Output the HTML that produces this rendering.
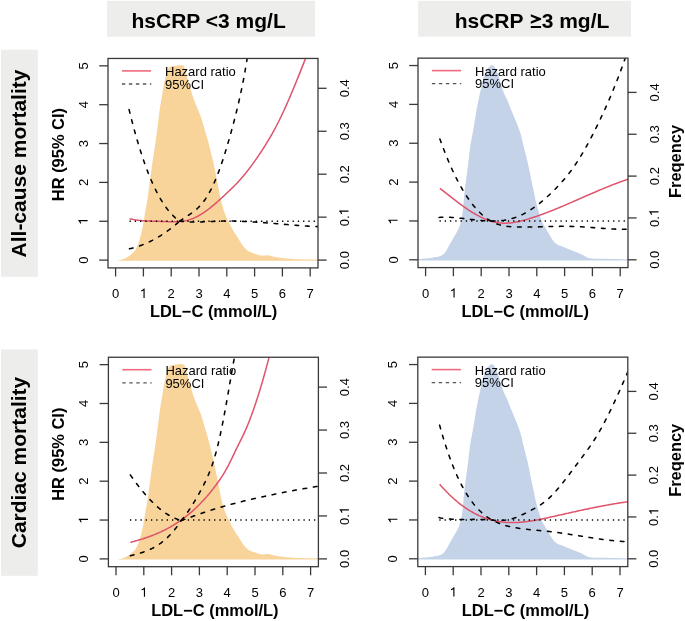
<!DOCTYPE html><html><head><meta charset="utf-8"><style>html,body{margin:0;padding:0;background:#fff;}svg{display:block;will-change:transform;}</style></head><body>
<svg width="685" height="621" viewBox="0 0 685 621" font-family='"Liberation Sans", sans-serif'>
<rect width="685" height="621" fill="#fff"/>
<rect x="107" y="0.8" width="208" height="35.9" fill="#ededeb"/>
<rect x="418.2" y="0.8" width="212.8" height="35.8" fill="#ededeb"/>
<text x="131.5" y="28" font-size="21" font-weight="bold" fill="#000">hsCRP &lt;3 mg/L</text>
<text x="454.7" y="27.8" font-size="21" font-weight="bold" fill="#000">hsCRP</text>
<path d="M530.8,14.2 L541.1,18.2 L541.1,19.8 L530.8,23.8 L530.8,21.6 L536.6,19 L530.8,16.4 Z M530.8,26 L541.1,26 L541.1,28.1 L530.8,28.1 Z" fill="#000"/>
<text x="541.7" y="27.8" font-size="21" font-weight="bold" fill="#000">3 mg/L</text>
<rect x="1" y="49.7" width="36.8" height="227.1" fill="#ededeb"/>
<rect x="1" y="349.4" width="36.8" height="226.4" fill="#ededeb"/>
<text transform="translate(26,163.5) rotate(-90)" text-anchor="middle" font-size="21" font-weight="bold">All-cause mortality</text>
<text transform="translate(26,462.5) rotate(-90)" text-anchor="middle" font-size="21" font-weight="bold">Cardiac mortality</text>
<defs>
<clipPath id="c1"><rect x="108" y="58.45" width="210" height="209.45"/></clipPath>
<clipPath id="c2"><rect x="418" y="58.150000000000006" width="210" height="209.45"/></clipPath>
<clipPath id="c3"><rect x="108.4" y="357.25" width="210" height="209.45"/></clipPath>
<clipPath id="c4"><rect x="417.8" y="357.15" width="210" height="209.45"/></clipPath>
</defs>
<path d="M116.50,260.70 C117.17,260.57 119.03,260.32 120.50,259.90 C121.97,259.48 123.70,258.98 125.30,258.20 C126.90,257.42 128.48,256.50 130.10,255.20 C131.72,253.90 133.68,252.22 135.00,250.40 C136.32,248.58 137.17,246.32 138.00,244.30 C138.83,242.28 139.20,241.32 140.00,238.30 C140.80,235.28 142.00,230.22 142.80,226.20 C143.60,222.18 144.10,218.22 144.80,214.20 C145.50,210.18 146.40,205.77 147.00,202.10 C147.60,198.43 147.55,198.42 148.40,192.20 C149.25,185.98 150.80,173.93 152.10,164.80 C153.40,155.67 154.93,146.53 156.20,137.40 C157.47,128.27 158.75,116.80 159.70,110.00 C160.65,103.20 161.27,100.43 161.90,96.60 C162.53,92.77 162.90,90.22 163.50,87.00 C164.10,83.78 164.83,80.05 165.50,77.30 C166.17,74.55 166.80,72.22 167.50,70.50 C168.20,68.78 168.62,67.75 169.70,67.00 C170.78,66.25 172.62,66.25 174.00,66.00 C175.38,65.75 176.78,65.65 178.00,65.50 C179.22,65.35 180.30,64.93 181.30,65.10 C182.30,65.27 183.32,65.53 184.00,66.50 C184.68,67.47 184.68,68.57 185.40,70.90 C186.12,73.23 187.32,77.07 188.30,80.50 C189.28,83.93 190.43,88.55 191.30,91.50 C192.17,94.45 192.57,95.57 193.50,98.20 C194.43,100.83 195.77,104.47 196.90,107.30 C198.03,110.13 199.27,112.38 200.30,115.20 C201.33,118.02 202.07,120.82 203.10,124.20 C204.13,127.58 205.63,132.53 206.50,135.50 C207.37,138.47 207.67,139.58 208.30,142.00 C208.93,144.42 209.43,146.52 210.30,150.00 C211.17,153.48 212.53,158.60 213.50,162.90 C214.47,167.20 215.23,171.50 216.10,175.80 C216.97,180.10 217.83,184.40 218.70,188.70 C219.57,193.00 220.22,197.30 221.30,201.60 C222.38,205.90 223.92,211.02 225.20,214.50 C226.48,217.98 227.72,219.92 229.00,222.50 C230.28,225.08 231.57,227.67 232.90,230.00 C234.23,232.33 235.77,234.55 237.00,236.50 C238.23,238.45 239.22,240.03 240.30,241.70 C241.38,243.37 242.18,244.93 243.50,246.50 C244.82,248.07 246.45,249.95 248.20,251.10 C249.95,252.25 251.87,252.65 254.00,253.40 C256.13,254.15 258.67,255.30 261.00,255.60 C263.33,255.90 265.67,254.98 268.00,255.20 C270.33,255.42 271.88,256.35 275.00,256.90 C278.12,257.45 282.80,258.12 286.70,258.50 C290.60,258.88 294.52,259.05 298.40,259.20 C302.28,259.35 306.73,259.35 310.00,259.40 C313.27,259.45 316.67,259.48 318.00,259.50 L318.00,260.70 L116.50,260.70 Z" fill="#F8D49B" clip-path="url(#c1)"/>
<path d="M129.50,218.70 L130.40,218.91 L131.29,219.11 L132.19,219.29 L133.09,219.46 L133.98,219.62 L134.88,219.77 L135.78,219.91 L136.68,220.04 L137.57,220.16 L138.47,220.27 L139.37,220.38 L140.26,220.47 L141.16,220.56 L142.06,220.64 L142.95,220.71 L143.85,220.77 L144.75,220.83 L145.65,220.89 L146.54,220.94 L147.44,220.98 L148.34,221.02 L149.23,221.06 L150.13,221.09 L151.03,221.12 L151.92,221.15 L152.82,221.17 L153.72,221.20 L154.62,221.22 L155.51,221.24 L156.41,221.26 L157.31,221.29 L158.20,221.31 L159.10,221.33 L160.00,221.36 L160.89,221.38 L161.79,221.41 L162.69,221.45 L163.59,221.48 L164.48,221.52 L165.38,221.55 L166.28,221.59 L167.17,221.62 L168.07,221.66 L168.97,221.69 L169.86,221.72 L170.76,221.74 L171.66,221.76 L172.56,221.77 L173.45,221.77 L174.35,221.77 L175.25,221.75 L176.14,221.73 L177.04,221.70 L177.94,221.65 L178.83,221.60 L179.73,221.53 L180.63,221.45 L181.53,221.35 L182.42,221.24 L183.32,221.11 L184.22,220.96 L185.11,220.80 L186.01,220.61 L186.91,220.41 L187.80,220.19 L188.70,219.94 L189.60,219.67 L190.49,219.38 L191.39,219.07 L192.29,218.73 L193.19,218.37 L194.08,217.99 L194.98,217.59 L195.88,217.17 L196.77,216.72 L197.67,216.26 L198.57,215.77 L199.46,215.27 L200.36,214.75 L201.26,214.21 L202.16,213.65 L203.05,213.07 L203.95,212.48 L204.85,211.86 L205.74,211.24 L206.64,210.59 L207.54,209.93 L208.43,209.26 L209.33,208.57 L210.23,207.87 L211.13,207.15 L212.02,206.42 L212.92,205.68 L213.82,204.93 L214.71,204.16 L215.61,203.38 L216.51,202.59 L217.40,201.80 L218.30,200.99 L219.20,200.18 L220.10,199.36 L220.99,198.53 L221.89,197.70 L222.79,196.87 L223.68,196.03 L224.58,195.19 L225.48,194.35 L226.37,193.51 L227.27,192.67 L228.17,191.82 L229.07,190.97 L229.96,190.11 L230.86,189.25 L231.76,188.39 L232.65,187.51 L233.55,186.62 L234.45,185.73 L235.34,184.82 L236.24,183.90 L237.14,182.96 L238.04,182.01 L238.93,181.04 L239.83,180.06 L240.73,179.05 L241.62,178.03 L242.52,176.99 L243.42,175.93 L244.31,174.85 L245.21,173.75 L246.11,172.64 L247.01,171.51 L247.90,170.36 L248.80,169.20 L249.70,168.02 L250.59,166.83 L251.49,165.62 L252.39,164.40 L253.28,163.16 L254.18,161.90 L255.08,160.64 L255.97,159.36 L256.87,158.06 L257.77,156.76 L258.67,155.44 L259.56,154.11 L260.46,152.77 L261.36,151.41 L262.25,150.04 L263.15,148.66 L264.05,147.26 L264.94,145.84 L265.84,144.40 L266.74,142.95 L267.64,141.48 L268.53,139.99 L269.43,138.48 L270.33,136.94 L271.22,135.39 L272.12,133.81 L273.02,132.20 L273.91,130.57 L274.81,128.92 L275.71,127.23 L276.61,125.52 L277.50,123.78 L278.40,122.02 L279.30,120.22 L280.19,118.39 L281.09,116.53 L281.99,114.64 L282.88,112.73 L283.78,110.79 L284.68,108.83 L285.58,106.84 L286.47,104.83 L287.37,102.80 L288.27,100.75 L289.16,98.68 L290.06,96.58 L290.96,94.48 L291.85,92.35 L292.75,90.21 L293.65,88.06 L294.55,85.89 L295.44,83.71 L296.34,81.51 L297.24,79.31 L298.13,77.10 L299.03,74.88 L299.93,72.64 L300.82,70.40 L301.72,68.15 L302.62,65.89 L303.52,63.61 L304.41,61.32 L305.31,59.02 L306.21,56.70 L307.10,54.37 L308.00,52.02" fill="none" stroke="#DF536B" stroke-width="1.5" clip-path="url(#c1)"/>
<path d="M129.10,109.59 L129.53,111.33 L129.95,113.07 L130.38,114.78 L130.80,116.48 L131.23,118.16 L131.65,119.83 L132.08,121.48 L132.50,123.11 L132.93,124.73 L133.35,126.33 L133.78,127.92 L134.20,129.49 L134.63,131.04 L135.05,132.58 L135.48,134.10 L135.90,135.61 L136.33,137.11 L136.75,138.58 L137.18,140.05 L137.60,141.49 L138.03,142.93 L138.45,144.34 L138.88,145.75 L139.31,147.13 L139.73,148.51 L140.16,149.86 L140.58,151.21 L141.01,152.54 L141.43,153.85 L141.86,155.15 L142.28,156.44 L142.71,157.71 L143.13,158.96 L143.56,160.21 L143.98,161.43 L144.41,162.65 L144.83,163.85 L145.26,165.03 L145.68,166.21 L146.11,167.37 L146.53,168.51 L146.96,169.64 L147.38,170.76 L147.81,171.86 L148.23,172.95 L148.66,174.03 L149.08,175.09 L149.51,176.15 L149.94,177.18 L150.36,178.21 L150.79,179.22 L151.21,180.22 L151.64,181.20 L152.06,182.17 L152.49,183.13 L152.91,184.08 L153.34,185.02 L153.76,185.94 L154.19,186.85 L154.61,187.74 L155.04,188.63 L155.46,189.50 L155.89,190.36 L156.31,191.21 L156.74,192.04 L157.16,192.87 L157.59,193.68 L158.01,194.48 L158.44,195.27 L158.86,196.04 L159.29,196.81 L159.72,197.56 L160.14,198.30 L160.57,199.03 L160.99,199.75 L161.42,200.46 L161.84,201.15 L162.27,201.84 L162.69,202.51 L163.12,203.18 L163.54,203.83 L163.97,204.47 L164.39,205.10 L164.82,205.72 L165.24,206.32 L165.67,206.92 L166.09,207.51 L166.52,208.08 L166.94,208.65 L167.37,209.21 L167.79,209.75 L168.22,210.29 L168.64,210.81 L169.07,211.32 L169.49,211.83 L169.92,212.32 L170.35,212.81 L170.77,213.28 L171.20,213.75 L171.62,214.20 L172.05,214.65 L172.47,215.08 L172.90,215.51 L173.32,215.93 L173.75,216.34 L174.17,216.73 L174.60,217.12 L175.02,217.50 L175.45,217.87 L175.87,218.24 L176.30,218.59 L176.72,218.93 L177.15,219.27 L177.57,219.59 L178.00,219.91 L178.42,220.22 L178.85,220.52 L179.27,220.81 L179.70,221.10" fill="none" stroke="#000" stroke-width="1.55" stroke-linecap="round" stroke-dasharray="3.7 6.8" clip-path="url(#c1)"/>
<path d="M129.50,248.80 L129.92,248.71 L130.34,248.61 L130.77,248.51 L131.19,248.41 L131.61,248.31 L132.03,248.20 L132.45,248.09 L132.87,247.98 L133.30,247.87 L133.72,247.75 L134.14,247.63 L134.56,247.52 L134.98,247.39 L135.41,247.27 L135.83,247.14 L136.25,247.01 L136.67,246.88 L137.09,246.75 L137.52,246.61 L137.94,246.47 L138.36,246.33 L138.78,246.19 L139.20,246.05 L139.62,245.90 L140.05,245.75 L140.47,245.60 L140.89,245.44 L141.31,245.28 L141.73,245.13 L142.16,244.96 L142.58,244.80 L143.00,244.63 L143.42,244.47 L143.84,244.30 L144.26,244.12 L144.69,243.95 L145.11,243.77 L145.53,243.59 L145.95,243.41 L146.37,243.22 L146.80,243.04 L147.22,242.85 L147.64,242.65 L148.06,242.46 L148.48,242.26 L148.91,242.07 L149.33,241.86 L149.75,241.66 L150.17,241.46 L150.59,241.25 L151.01,241.04 L151.44,240.82 L151.86,240.61 L152.28,240.39 L152.70,240.17 L153.12,239.95 L153.55,239.72 L153.97,239.50 L154.39,239.27 L154.81,239.04 L155.23,238.80 L155.65,238.57 L156.08,238.33 L156.50,238.09 L156.92,237.84 L157.34,237.60 L157.76,237.35 L158.19,237.10 L158.61,236.85 L159.03,236.59 L159.45,236.33 L159.87,236.07 L160.29,235.81 L160.72,235.55 L161.14,235.28 L161.56,235.01 L161.98,234.74 L162.40,234.46 L162.83,234.19 L163.25,233.91 L163.67,233.63 L164.09,233.34 L164.51,233.05 L164.94,232.77 L165.36,232.48 L165.78,232.18 L166.20,231.89 L166.62,231.59 L167.04,231.29 L167.47,230.98 L167.89,230.68 L168.31,230.37 L168.73,230.06 L169.15,229.75 L169.58,229.43 L170.00,229.12 L170.42,228.80 L170.84,228.47 L171.26,228.15 L171.68,227.82 L172.11,227.49 L172.53,227.16 L172.95,226.83 L173.37,226.49 L173.79,226.15 L174.22,225.81 L174.64,225.46 L175.06,225.12 L175.48,224.77 L175.90,224.42 L176.33,224.06 L176.75,223.71 L177.17,223.35 L177.59,222.99 L178.01,222.62 L178.43,222.26 L178.86,221.89 L179.28,221.52 L179.70,221.14" fill="none" stroke="#000" stroke-width="1.55" stroke-linecap="round" stroke-dasharray="3.7 6.8" clip-path="url(#c1)"/>
<path d="M179.70,221.13 L180.27,220.71 L180.85,220.31 L181.42,219.91 L182.00,219.52 L182.57,219.13 L183.14,218.75 L183.72,218.37 L184.29,217.99 L184.87,217.62 L185.44,217.25 L186.01,216.88 L186.59,216.51 L187.16,216.13 L187.74,215.76 L188.31,215.38 L188.88,215.00 L189.46,214.62 L190.03,214.23 L190.61,213.83 L191.18,213.43 L191.75,213.02 L192.33,212.60 L192.90,212.17 L193.47,211.74 L194.05,211.29 L194.62,210.83 L195.20,210.36 L195.77,209.87 L196.34,209.37 L196.92,208.86 L197.49,208.33 L198.07,207.79 L198.64,207.23 L199.21,206.65 L199.79,206.05 L200.36,205.43 L200.94,204.79 L201.51,204.13 L202.08,203.45 L202.66,202.75 L203.23,202.02 L203.81,201.27 L204.38,200.49 L204.95,199.69 L205.53,198.86 L206.10,198.00 L206.68,197.12 L207.25,196.20 L207.82,195.26 L208.40,194.28 L208.97,193.28 L209.55,192.25 L210.12,191.18 L210.69,190.09 L211.27,188.97 L211.84,187.81 L212.42,186.63 L212.99,185.42 L213.56,184.17 L214.14,182.90 L214.71,181.59 L215.28,180.26 L215.86,178.89 L216.43,177.50 L217.01,176.07 L217.58,174.61 L218.15,173.13 L218.73,171.61 L219.30,170.06 L219.88,168.48 L220.45,166.87 L221.02,165.23 L221.60,163.56 L222.17,161.86 L222.75,160.13 L223.32,158.37 L223.89,156.59 L224.47,154.78 L225.04,152.95 L225.62,151.09 L226.19,149.20 L226.76,147.30 L227.34,145.37 L227.91,143.41 L228.49,141.44 L229.06,139.45 L229.63,137.43 L230.21,135.40 L230.78,133.34 L231.36,131.27 L231.93,129.18 L232.50,127.06 L233.08,124.93 L233.65,122.76 L234.23,120.57 L234.80,118.35 L235.37,116.10 L235.95,113.81 L236.52,111.49 L237.09,109.13 L237.67,106.74 L238.24,104.30 L238.82,101.82 L239.39,99.29 L239.96,96.72 L240.54,94.10 L241.11,91.43 L241.69,88.69 L242.26,85.89 L242.83,83.02 L243.41,80.07 L243.98,77.04 L244.56,73.92 L245.13,70.71 L245.70,67.39 L246.28,63.97 L246.85,60.44 L247.43,56.79 L248.00,53.02" fill="none" stroke="#000" stroke-width="1.55" stroke-linecap="round" stroke-dasharray="3.7 6.8" clip-path="url(#c1)"/>
<path d="M179.70,221.17 L180.90,221.32 L182.09,221.45 L183.29,221.56 L184.48,221.67 L185.68,221.75 L186.87,221.83 L188.07,221.89 L189.27,221.94 L190.46,221.98 L191.66,222.01 L192.85,222.03 L194.05,222.03 L195.25,222.03 L196.44,222.03 L197.64,222.01 L198.83,221.99 L200.03,221.96 L201.22,221.92 L202.42,221.88 L203.62,221.84 L204.81,221.79 L206.01,221.74 L207.20,221.69 L208.40,221.64 L209.59,221.58 L210.79,221.53 L211.99,221.47 L213.18,221.42 L214.38,221.37 L215.57,221.32 L216.77,221.27 L217.97,221.23 L219.16,221.19 L220.36,221.15 L221.55,221.12 L222.75,221.10 L223.94,221.08 L225.14,221.07 L226.34,221.06 L227.53,221.05 L228.73,221.05 L229.92,221.06 L231.12,221.07 L232.32,221.08 L233.51,221.10 L234.71,221.12 L235.90,221.15 L237.10,221.18 L238.29,221.21 L239.49,221.25 L240.69,221.29 L241.88,221.34 L243.08,221.38 L244.27,221.43 L245.47,221.49 L246.66,221.55 L247.86,221.61 L249.06,221.67 L250.25,221.74 L251.45,221.81 L252.64,221.88 L253.84,221.95 L255.04,222.03 L256.23,222.11 L257.43,222.19 L258.62,222.27 L259.82,222.35 L261.01,222.44 L262.21,222.53 L263.41,222.62 L264.60,222.71 L265.80,222.80 L266.99,222.90 L268.19,222.99 L269.38,223.09 L270.58,223.19 L271.78,223.28 L272.97,223.38 L274.17,223.48 L275.36,223.58 L276.56,223.68 L277.76,223.78 L278.95,223.88 L280.15,223.99 L281.34,224.09 L282.54,224.19 L283.73,224.29 L284.93,224.39 L286.13,224.49 L287.32,224.59 L288.52,224.69 L289.71,224.79 L290.91,224.88 L292.11,224.98 L293.30,225.08 L294.50,225.17 L295.69,225.26 L296.89,225.36 L298.08,225.45 L299.28,225.54 L300.48,225.62 L301.67,225.71 L302.87,225.79 L304.06,225.87 L305.26,225.95 L306.45,226.03 L307.65,226.11 L308.85,226.18 L310.04,226.25 L311.24,226.32 L312.43,226.38 L313.63,226.44 L314.83,226.50 L316.02,226.56 L317.22,226.61 L318.41,226.66 L319.61,226.71 L320.80,226.75 L322.00,226.79" fill="none" stroke="#000" stroke-width="1.55" stroke-linecap="round" stroke-dasharray="3.7 6.8" clip-path="url(#c1)"/>
<line x1="129.50" y1="221.25" x2="318.00" y2="221.25" stroke="#000" stroke-width="1.4" stroke-dasharray="1.3 3.96"/>
<rect x="108" y="58.45" width="210" height="209.45" fill="none" stroke="#3a3a3a" stroke-width="1.3"/>
<line x1="99.2" y1="260.10" x2="108" y2="260.10" stroke="#3a3a3a" stroke-width="1.3"/>
<text transform="translate(87.60,260.10) rotate(-90)" text-anchor="middle" font-size="13" fill="#000">0</text>
<line x1="99.2" y1="221.25" x2="108" y2="221.25" stroke="#3a3a3a" stroke-width="1.3"/>
<path transform="translate(87.60,221.25) rotate(-90)" d="M1.23,0.00 L0.09,0.00 L0.09,-7.28 C-0.34,-6.86 -1.21,-6.50 -2.20,-6.42 L-2.20,-7.57 C-1.01,-7.85 0.05,-8.63 0.49,-9.31 L1.23,-9.31 Z" fill="#000"/>
<line x1="99.2" y1="182.40" x2="108" y2="182.40" stroke="#3a3a3a" stroke-width="1.3"/>
<text transform="translate(87.60,182.40) rotate(-90)" text-anchor="middle" font-size="13" fill="#000">2</text>
<line x1="99.2" y1="143.55" x2="108" y2="143.55" stroke="#3a3a3a" stroke-width="1.3"/>
<text transform="translate(87.60,143.55) rotate(-90)" text-anchor="middle" font-size="13" fill="#000">3</text>
<line x1="99.2" y1="104.70" x2="108" y2="104.70" stroke="#3a3a3a" stroke-width="1.3"/>
<text transform="translate(87.60,104.70) rotate(-90)" text-anchor="middle" font-size="13" fill="#000">4</text>
<line x1="99.2" y1="65.85" x2="108" y2="65.85" stroke="#3a3a3a" stroke-width="1.3"/>
<text transform="translate(87.60,65.85) rotate(-90)" text-anchor="middle" font-size="13" fill="#000">5</text>
<line x1="318" y1="260.10" x2="326.6" y2="260.10" stroke="#3a3a3a" stroke-width="1.3"/>
<text transform="translate(348.50,260.10) rotate(-90)" text-anchor="middle" font-size="13" fill="#000">0.0</text>
<line x1="318" y1="217.15" x2="326.6" y2="217.15" stroke="#3a3a3a" stroke-width="1.3"/>
<g transform="translate(348.50,217.15) rotate(-90)"><text x="-9.035" font-size="13" fill="#000">0.</text><path d="M6.66,0.00 L5.51,0.00 L5.51,-7.28 C5.08,-6.86 4.21,-6.50 3.22,-6.42 L3.22,-7.57 C4.41,-7.85 5.47,-8.63 5.92,-9.31 L6.66,-9.31 Z" fill="#000"/></g>
<line x1="318" y1="174.20" x2="326.6" y2="174.20" stroke="#3a3a3a" stroke-width="1.3"/>
<text transform="translate(348.50,174.20) rotate(-90)" text-anchor="middle" font-size="13" fill="#000">0.2</text>
<line x1="318" y1="131.25" x2="326.6" y2="131.25" stroke="#3a3a3a" stroke-width="1.3"/>
<text transform="translate(348.50,131.25) rotate(-90)" text-anchor="middle" font-size="13" fill="#000">0.3</text>
<line x1="318" y1="88.30" x2="326.6" y2="88.30" stroke="#3a3a3a" stroke-width="1.3"/>
<text transform="translate(348.50,88.30) rotate(-90)" text-anchor="middle" font-size="13" fill="#000">0.4</text>
<line x1="115.60" y1="267.9" x2="115.60" y2="276.5" stroke="#3a3a3a" stroke-width="1.3"/>
<text x="115.60" y="297.90" text-anchor="middle" font-size="13" fill="#000">0</text>
<line x1="143.40" y1="267.9" x2="143.40" y2="276.5" stroke="#3a3a3a" stroke-width="1.3"/>
<path d="M144.63,297.90 L143.49,297.90 L143.49,290.62 C143.06,291.04 142.19,291.40 141.20,291.48 L141.20,290.33 C142.39,290.05 143.45,289.27 143.89,288.59 L144.63,288.59 Z" fill="#000"/>
<line x1="171.20" y1="267.9" x2="171.20" y2="276.5" stroke="#3a3a3a" stroke-width="1.3"/>
<text x="171.20" y="297.90" text-anchor="middle" font-size="13" fill="#000">2</text>
<line x1="199.00" y1="267.9" x2="199.00" y2="276.5" stroke="#3a3a3a" stroke-width="1.3"/>
<text x="199.00" y="297.90" text-anchor="middle" font-size="13" fill="#000">3</text>
<line x1="226.80" y1="267.9" x2="226.80" y2="276.5" stroke="#3a3a3a" stroke-width="1.3"/>
<text x="226.80" y="297.90" text-anchor="middle" font-size="13" fill="#000">4</text>
<line x1="254.60" y1="267.9" x2="254.60" y2="276.5" stroke="#3a3a3a" stroke-width="1.3"/>
<text x="254.60" y="297.90" text-anchor="middle" font-size="13" fill="#000">5</text>
<line x1="282.40" y1="267.9" x2="282.40" y2="276.5" stroke="#3a3a3a" stroke-width="1.3"/>
<text x="282.40" y="297.90" text-anchor="middle" font-size="13" fill="#000">6</text>
<line x1="310.20" y1="267.9" x2="310.20" y2="276.5" stroke="#3a3a3a" stroke-width="1.3"/>
<text x="310.20" y="297.90" text-anchor="middle" font-size="13" fill="#000">7</text>
<line x1="121.9" y1="70.9" x2="151.1" y2="70.9" stroke="#EE6A7C" stroke-width="1.6"/>
<line x1="121.9" y1="84" x2="151.3" y2="84" stroke="#555" stroke-width="1.3" stroke-dasharray="3.4 3.6"/>
<text x="165" y="75.8" font-size="13" fill="#000">Hazard ratio</text>
<text x="165" y="88.7" font-size="13" fill="#000">95%CI</text>
<path d="M418.00,259.30 C419.00,259.18 421.58,258.87 424.00,258.60 C426.42,258.33 429.88,258.08 432.50,257.70 C435.12,257.32 437.80,256.97 439.70,256.30 C441.60,255.63 442.77,254.70 443.90,253.70 C445.03,252.70 445.52,251.87 446.50,250.30 C447.48,248.73 448.68,246.30 449.80,244.30 C450.92,242.30 451.57,241.32 453.20,238.30 C454.83,235.28 458.07,230.23 459.60,226.20 C461.13,222.17 461.73,218.12 462.40,214.10 C463.07,210.08 463.25,205.78 463.60,202.10 C463.95,198.42 464.02,196.25 464.50,192.00 C464.98,187.75 465.83,181.72 466.50,176.60 C467.17,171.48 467.87,166.40 468.50,161.30 C469.13,156.20 469.53,151.10 470.30,146.00 C471.07,140.90 472.20,135.82 473.10,130.70 C474.00,125.58 474.95,119.67 475.70,115.30 C476.45,110.93 476.78,108.68 477.60,104.50 C478.42,100.32 479.62,94.60 480.60,90.20 C481.58,85.80 482.48,81.45 483.50,78.10 C484.52,74.75 485.70,72.03 486.70,70.10 C487.70,68.17 488.63,67.32 489.50,66.50 C490.37,65.68 491.15,65.23 491.90,65.20 C492.65,65.17 493.33,65.48 494.00,66.30 C494.67,67.12 495.03,68.13 495.90,70.10 C496.77,72.07 498.05,74.75 499.20,78.10 C500.35,81.45 501.50,86.63 502.80,90.20 C504.10,93.77 505.80,96.70 507.00,99.50 C508.20,102.30 508.88,104.23 510.00,107.00 C511.12,109.77 512.02,111.90 513.70,116.10 C515.38,120.30 518.37,126.83 520.10,132.20 C521.83,137.57 522.77,142.95 524.10,148.30 C525.43,153.65 526.88,158.95 528.10,164.30 C529.32,169.65 530.50,176.12 531.40,180.40 C532.30,184.68 532.63,185.97 533.50,190.00 C534.37,194.03 535.35,199.73 536.60,204.60 C537.85,209.47 539.67,215.55 541.00,219.20 C542.33,222.85 543.27,224.07 544.60,226.50 C545.93,228.93 547.53,231.37 549.00,233.80 C550.47,236.23 551.95,239.28 553.40,241.10 C554.85,242.92 556.00,243.73 557.70,244.70 C559.40,245.67 561.40,246.03 563.60,246.90 C565.80,247.77 568.23,248.80 570.90,249.90 C573.57,251.00 577.17,252.42 579.60,253.50 C582.03,254.58 583.78,255.62 585.50,256.40 C587.22,257.18 586.98,257.80 589.90,258.20 C592.82,258.60 596.92,258.62 603.00,258.80 C609.08,258.98 622.23,259.20 626.40,259.30 C630.57,259.40 627.73,259.38 628.00,259.40 L628.00,260.40 L418.00,260.40 Z" fill="#C4D3E8" clip-path="url(#c2)"/>
<path d="M439.90,188.29 L440.87,189.05 L441.83,189.82 L442.80,190.59 L443.76,191.35 L444.73,192.12 L445.69,192.89 L446.66,193.66 L447.62,194.42 L448.59,195.18 L449.55,195.95 L450.52,196.70 L451.48,197.46 L452.45,198.21 L453.41,198.96 L454.38,199.71 L455.35,200.45 L456.31,201.19 L457.28,201.92 L458.24,202.64 L459.21,203.36 L460.17,204.08 L461.14,204.79 L462.10,205.49 L463.07,206.18 L464.03,206.86 L465.00,207.54 L465.96,208.20 L466.93,208.86 L467.89,209.51 L468.86,210.15 L469.83,210.78 L470.79,211.39 L471.76,212.00 L472.72,212.60 L473.69,213.18 L474.65,213.75 L475.62,214.31 L476.58,214.85 L477.55,215.38 L478.51,215.90 L479.48,216.40 L480.44,216.89 L481.41,217.36 L482.37,217.82 L483.34,218.26 L484.31,218.69 L485.27,219.09 L486.24,219.48 L487.20,219.86 L488.17,220.21 L489.13,220.55 L490.10,220.87 L491.06,221.17 L492.03,221.45 L492.99,221.71 L493.96,221.95 L494.92,222.17 L495.89,222.36 L496.85,222.54 L497.82,222.69 L498.78,222.83 L499.75,222.94 L500.72,223.03 L501.68,223.10 L502.65,223.15 L503.61,223.18 L504.58,223.19 L505.54,223.18 L506.51,223.16 L507.47,223.11 L508.44,223.06 L509.40,222.98 L510.37,222.89 L511.33,222.78 L512.30,222.66 L513.26,222.53 L514.23,222.38 L515.20,222.22 L516.16,222.04 L517.13,221.86 L518.09,221.66 L519.06,221.45 L520.02,221.23 L520.99,221.00 L521.95,220.76 L522.92,220.51 L523.88,220.26 L524.85,219.99 L525.81,219.72 L526.78,219.44 L527.74,219.15 L528.71,218.86 L529.68,218.57 L530.64,218.26 L531.61,217.96 L532.57,217.65 L533.54,217.33 L534.50,217.01 L535.47,216.69 L536.43,216.36 L537.40,216.02 L538.36,215.69 L539.33,215.35 L540.29,215.00 L541.26,214.66 L542.22,214.30 L543.19,213.95 L544.16,213.59 L545.12,213.23 L546.09,212.86 L547.05,212.49 L548.02,212.12 L548.98,211.75 L549.95,211.37 L550.91,210.99 L551.88,210.60 L552.84,210.22 L553.81,209.83 L554.77,209.44 L555.74,209.04 L556.70,208.65 L557.67,208.25 L558.64,207.85 L559.60,207.45 L560.57,207.04 L561.53,206.64 L562.50,206.23 L563.46,205.82 L564.43,205.41 L565.39,204.99 L566.36,204.58 L567.32,204.16 L568.29,203.75 L569.25,203.33 L570.22,202.91 L571.18,202.49 L572.15,202.07 L573.12,201.65 L574.08,201.23 L575.05,200.80 L576.01,200.38 L576.98,199.96 L577.94,199.53 L578.91,199.11 L579.87,198.68 L580.84,198.26 L581.80,197.83 L582.77,197.41 L583.73,196.99 L584.70,196.56 L585.66,196.14 L586.63,195.71 L587.59,195.29 L588.56,194.87 L589.53,194.45 L590.49,194.03 L591.46,193.61 L592.42,193.19 L593.39,192.77 L594.35,192.36 L595.32,191.94 L596.28,191.53 L597.25,191.12 L598.21,190.71 L599.18,190.30 L600.14,189.89 L601.11,189.49 L602.07,189.08 L603.04,188.68 L604.01,188.28 L604.97,187.88 L605.94,187.49 L606.90,187.10 L607.87,186.71 L608.83,186.32 L609.80,185.93 L610.76,185.55 L611.73,185.17 L612.69,184.80 L613.66,184.42 L614.62,184.05 L615.59,183.69 L616.55,183.32 L617.52,182.96 L618.49,182.60 L619.45,182.25 L620.42,181.90 L621.38,181.55 L622.35,181.21 L623.31,180.87 L624.28,180.54 L625.24,180.21 L626.21,179.88 L627.17,179.56 L628.14,179.24 L629.10,178.93 L630.07,178.62 L631.03,178.32 L632.00,178.02" fill="none" stroke="#DF536B" stroke-width="1.5" clip-path="url(#c2)"/>
<path d="M439.90,138.97 L441.51,143.44 L443.13,147.77 L444.74,151.97 L446.36,156.03 L447.97,159.95 L449.59,163.75 L451.20,167.41 L452.81,170.95 L454.43,174.36 L456.04,177.64 L457.66,180.80 L459.27,183.84 L460.89,186.76 L462.50,189.55 L464.11,192.24 L465.73,194.80 L467.34,197.25 L468.96,199.59 L470.57,201.82 L472.19,203.94 L473.80,205.96 L475.41,207.86 L477.03,209.67 L478.64,211.37 L480.26,212.96 L481.87,214.46 L483.49,215.87 L485.10,217.17 L486.71,218.39 L488.33,219.50 L489.94,220.53 L491.56,221.47 L493.17,222.32 L494.79,223.08 L496.40,223.76 L498.01,224.36 L499.63,224.88 L501.24,225.31 L502.86,225.68 L504.47,225.98 L506.09,226.23 L507.70,226.43 L509.31,226.58 L510.93,226.70 L512.54,226.80 L514.16,226.87 L515.77,226.93 L517.39,226.98 L519.00,227.02 L520.61,227.05 L522.23,227.07 L523.84,227.08 L525.46,227.09 L527.07,227.08 L528.69,227.07 L530.30,227.05 L531.91,227.03 L533.53,227.00 L535.14,226.97 L536.76,226.93 L538.37,226.89 L539.99,226.85 L541.60,226.81 L543.21,226.76 L544.83,226.72 L546.44,226.67 L548.06,226.62 L549.67,226.58 L551.29,226.54 L552.90,226.50 L554.51,226.46 L556.13,226.42 L557.74,226.39 L559.36,226.37 L560.97,226.35 L562.59,226.34 L564.20,226.33 L565.81,226.33 L567.43,226.34 L569.04,226.36 L570.66,226.38 L572.27,226.42 L573.89,226.47 L575.50,226.52 L577.11,226.59 L578.73,226.67 L580.34,226.75 L581.96,226.84 L583.57,226.94 L585.19,227.05 L586.80,227.16 L588.41,227.27 L590.03,227.39 L591.64,227.52 L593.26,227.64 L594.87,227.77 L596.49,227.89 L598.10,228.02 L599.71,228.14 L601.33,228.27 L602.94,228.39 L604.56,228.50 L606.17,228.61 L607.79,228.72 L609.40,228.82 L611.01,228.92 L612.63,229.01 L614.24,229.08 L615.86,229.15 L617.47,229.21 L619.09,229.26 L620.70,229.30 L622.31,229.33 L623.93,229.34 L625.54,229.34 L627.16,229.32 L628.77,229.29 L630.39,229.24 L632.00,229.18" fill="none" stroke="#000" stroke-width="1.55" stroke-linecap="round" stroke-dasharray="3.7 6.8" clip-path="url(#c2)"/>
<path d="M439.10,217.40 L440.69,217.31 L442.27,217.25 L443.86,217.22 L445.45,217.22 L447.04,217.24 L448.62,217.28 L450.21,217.35 L451.80,217.44 L453.39,217.54 L454.97,217.67 L456.56,217.81 L458.15,217.96 L459.74,218.12 L461.32,218.29 L462.91,218.48 L464.50,218.66 L466.09,218.86 L467.67,219.05 L469.26,219.25 L470.85,219.44 L472.44,219.63 L474.02,219.82 L475.61,220.01 L477.20,220.18 L478.78,220.35 L480.37,220.50 L481.96,220.64 L483.55,220.77 L485.13,220.88 L486.72,220.97 L488.31,221.05 L489.90,221.10 L491.48,221.12 L493.07,221.13 L494.66,221.10 L496.25,221.05 L497.83,220.96 L499.42,220.85 L501.01,220.70 L502.60,220.51 L504.18,220.29 L505.77,220.02 L507.36,219.72 L508.95,219.37 L510.53,218.98 L512.12,218.54 L513.71,218.06 L515.29,217.52 L516.88,216.94 L518.47,216.30 L520.06,215.61 L521.64,214.87 L523.23,214.08 L524.82,213.24 L526.41,212.36 L527.99,211.43 L529.58,210.45 L531.17,209.43 L532.76,208.36 L534.34,207.25 L535.93,206.10 L537.52,204.91 L539.11,203.68 L540.69,202.40 L542.28,201.09 L543.87,199.74 L545.46,198.35 L547.04,196.93 L548.63,195.47 L550.22,193.98 L551.81,192.45 L553.39,190.89 L554.98,189.29 L556.57,187.67 L558.15,186.01 L559.74,184.31 L561.33,182.56 L562.92,180.77 L564.50,178.93 L566.09,177.03 L567.68,175.07 L569.27,173.05 L570.85,170.96 L572.44,168.80 L574.03,166.56 L575.62,164.25 L577.20,161.85 L578.79,159.36 L580.38,156.80 L581.97,154.16 L583.55,151.44 L585.14,148.66 L586.73,145.81 L588.32,142.90 L589.90,139.93 L591.49,136.91 L593.08,133.84 L594.66,130.72 L596.25,127.54 L597.84,124.31 L599.43,121.03 L601.01,117.69 L602.60,114.30 L604.19,110.85 L605.78,107.34 L607.36,103.76 L608.95,100.12 L610.54,96.41 L612.13,92.62 L613.71,88.75 L615.30,84.81 L616.89,80.78 L618.48,76.67 L620.06,72.46 L621.65,68.16 L623.24,63.77 L624.83,59.27 L626.41,54.68 L628.00,49.97" fill="none" stroke="#000" stroke-width="1.55" stroke-linecap="round" stroke-dasharray="3.7 6.8" clip-path="url(#c2)"/>
<line x1="439.50" y1="220.95" x2="628.00" y2="220.95" stroke="#000" stroke-width="1.4" stroke-dasharray="1.3 3.96"/>
<rect x="418" y="58.150000000000006" width="210" height="209.45" fill="none" stroke="#3a3a3a" stroke-width="1.3"/>
<line x1="409.2" y1="259.80" x2="418" y2="259.80" stroke="#3a3a3a" stroke-width="1.3"/>
<text transform="translate(397.60,259.80) rotate(-90)" text-anchor="middle" font-size="13" fill="#000">0</text>
<line x1="409.2" y1="220.95" x2="418" y2="220.95" stroke="#3a3a3a" stroke-width="1.3"/>
<path transform="translate(397.60,220.95) rotate(-90)" d="M1.23,0.00 L0.09,0.00 L0.09,-7.28 C-0.34,-6.86 -1.21,-6.50 -2.20,-6.42 L-2.20,-7.57 C-1.01,-7.85 0.05,-8.63 0.49,-9.31 L1.23,-9.31 Z" fill="#000"/>
<line x1="409.2" y1="182.10" x2="418" y2="182.10" stroke="#3a3a3a" stroke-width="1.3"/>
<text transform="translate(397.60,182.10) rotate(-90)" text-anchor="middle" font-size="13" fill="#000">2</text>
<line x1="409.2" y1="143.25" x2="418" y2="143.25" stroke="#3a3a3a" stroke-width="1.3"/>
<text transform="translate(397.60,143.25) rotate(-90)" text-anchor="middle" font-size="13" fill="#000">3</text>
<line x1="409.2" y1="104.40" x2="418" y2="104.40" stroke="#3a3a3a" stroke-width="1.3"/>
<text transform="translate(397.60,104.40) rotate(-90)" text-anchor="middle" font-size="13" fill="#000">4</text>
<line x1="409.2" y1="65.55" x2="418" y2="65.55" stroke="#3a3a3a" stroke-width="1.3"/>
<text transform="translate(397.60,65.55) rotate(-90)" text-anchor="middle" font-size="13" fill="#000">5</text>
<line x1="628" y1="259.80" x2="636.6" y2="259.80" stroke="#3a3a3a" stroke-width="1.3"/>
<text transform="translate(658.50,259.80) rotate(-90)" text-anchor="middle" font-size="13" fill="#000">0.0</text>
<line x1="628" y1="217.95" x2="636.6" y2="217.95" stroke="#3a3a3a" stroke-width="1.3"/>
<g transform="translate(658.50,217.95) rotate(-90)"><text x="-9.035" font-size="13" fill="#000">0.</text><path d="M6.66,0.00 L5.51,0.00 L5.51,-7.28 C5.08,-6.86 4.21,-6.50 3.22,-6.42 L3.22,-7.57 C4.41,-7.85 5.47,-8.63 5.92,-9.31 L6.66,-9.31 Z" fill="#000"/></g>
<line x1="628" y1="176.10" x2="636.6" y2="176.10" stroke="#3a3a3a" stroke-width="1.3"/>
<text transform="translate(658.50,176.10) rotate(-90)" text-anchor="middle" font-size="13" fill="#000">0.2</text>
<line x1="628" y1="134.25" x2="636.6" y2="134.25" stroke="#3a3a3a" stroke-width="1.3"/>
<text transform="translate(658.50,134.25) rotate(-90)" text-anchor="middle" font-size="13" fill="#000">0.3</text>
<line x1="628" y1="92.40" x2="636.6" y2="92.40" stroke="#3a3a3a" stroke-width="1.3"/>
<text transform="translate(658.50,92.40) rotate(-90)" text-anchor="middle" font-size="13" fill="#000">0.4</text>
<line x1="425.60" y1="267.59999999999997" x2="425.60" y2="276.2" stroke="#3a3a3a" stroke-width="1.3"/>
<text x="425.60" y="297.60" text-anchor="middle" font-size="13" fill="#000">0</text>
<line x1="453.40" y1="267.59999999999997" x2="453.40" y2="276.2" stroke="#3a3a3a" stroke-width="1.3"/>
<path d="M454.63,297.60 L453.49,297.60 L453.49,290.32 C453.06,290.74 452.19,291.10 451.20,291.18 L451.20,290.03 C452.39,289.75 453.45,288.97 453.89,288.29 L454.63,288.29 Z" fill="#000"/>
<line x1="481.20" y1="267.59999999999997" x2="481.20" y2="276.2" stroke="#3a3a3a" stroke-width="1.3"/>
<text x="481.20" y="297.60" text-anchor="middle" font-size="13" fill="#000">2</text>
<line x1="509.00" y1="267.59999999999997" x2="509.00" y2="276.2" stroke="#3a3a3a" stroke-width="1.3"/>
<text x="509.00" y="297.60" text-anchor="middle" font-size="13" fill="#000">3</text>
<line x1="536.80" y1="267.59999999999997" x2="536.80" y2="276.2" stroke="#3a3a3a" stroke-width="1.3"/>
<text x="536.80" y="297.60" text-anchor="middle" font-size="13" fill="#000">4</text>
<line x1="564.60" y1="267.59999999999997" x2="564.60" y2="276.2" stroke="#3a3a3a" stroke-width="1.3"/>
<text x="564.60" y="297.60" text-anchor="middle" font-size="13" fill="#000">5</text>
<line x1="592.40" y1="267.59999999999997" x2="592.40" y2="276.2" stroke="#3a3a3a" stroke-width="1.3"/>
<text x="592.40" y="297.60" text-anchor="middle" font-size="13" fill="#000">6</text>
<line x1="620.20" y1="267.59999999999997" x2="620.20" y2="276.2" stroke="#3a3a3a" stroke-width="1.3"/>
<text x="620.20" y="297.60" text-anchor="middle" font-size="13" fill="#000">7</text>
<line x1="431.9" y1="70.60000000000001" x2="461.1" y2="70.60000000000001" stroke="#EE6A7C" stroke-width="1.6"/>
<line x1="431.9" y1="83.7" x2="461.3" y2="83.7" stroke="#555" stroke-width="1.3" stroke-dasharray="3.4 3.6"/>
<text x="475" y="75.5" font-size="13" fill="#000">Hazard ratio</text>
<text x="475" y="88.4" font-size="13" fill="#000">95%CI</text>
<path d="M116.90,559.50 C117.57,559.37 119.43,559.12 120.90,558.70 C122.37,558.28 124.10,557.78 125.70,557.00 C127.30,556.22 128.88,555.30 130.50,554.00 C132.12,552.70 134.08,551.02 135.40,549.20 C136.72,547.38 137.57,545.12 138.40,543.10 C139.23,541.08 139.60,540.12 140.40,537.10 C141.20,534.08 142.40,529.02 143.20,525.00 C144.00,520.98 144.50,517.02 145.20,513.00 C145.90,508.98 146.80,504.57 147.40,500.90 C148.00,497.23 147.95,497.22 148.80,491.00 C149.65,484.78 151.20,472.73 152.50,463.60 C153.80,454.47 155.33,445.33 156.60,436.20 C157.87,427.07 159.15,415.60 160.10,408.80 C161.05,402.00 161.67,399.23 162.30,395.40 C162.93,391.57 163.30,389.02 163.90,385.80 C164.50,382.58 165.23,378.85 165.90,376.10 C166.57,373.35 167.20,371.02 167.90,369.30 C168.60,367.58 169.02,366.55 170.10,365.80 C171.18,365.05 173.02,365.05 174.40,364.80 C175.78,364.55 177.18,364.45 178.40,364.30 C179.62,364.15 180.70,363.73 181.70,363.90 C182.70,364.07 183.72,364.33 184.40,365.30 C185.08,366.27 185.08,367.37 185.80,369.70 C186.52,372.03 187.72,375.87 188.70,379.30 C189.68,382.73 190.83,387.35 191.70,390.30 C192.57,393.25 192.97,394.37 193.90,397.00 C194.83,399.63 196.17,403.27 197.30,406.10 C198.43,408.93 199.67,411.18 200.70,414.00 C201.73,416.82 202.47,419.62 203.50,423.00 C204.53,426.38 206.03,431.33 206.90,434.30 C207.77,437.27 208.07,438.38 208.70,440.80 C209.33,443.22 209.83,445.32 210.70,448.80 C211.57,452.28 212.93,457.40 213.90,461.70 C214.87,466.00 215.63,470.30 216.50,474.60 C217.37,478.90 218.23,483.20 219.10,487.50 C219.97,491.80 220.62,496.10 221.70,500.40 C222.78,504.70 224.32,509.82 225.60,513.30 C226.88,516.78 228.12,518.72 229.40,521.30 C230.68,523.88 231.97,526.47 233.30,528.80 C234.63,531.13 236.17,533.35 237.40,535.30 C238.63,537.25 239.62,538.83 240.70,540.50 C241.78,542.17 242.58,543.73 243.90,545.30 C245.22,546.87 246.85,548.75 248.60,549.90 C250.35,551.05 252.27,551.45 254.40,552.20 C256.53,552.95 259.07,554.10 261.40,554.40 C263.73,554.70 266.07,553.78 268.40,554.00 C270.73,554.22 272.28,555.15 275.40,555.70 C278.52,556.25 283.20,556.92 287.10,557.30 C291.00,557.68 294.92,557.85 298.80,558.00 C302.68,558.15 307.13,558.15 310.40,558.20 C313.67,558.25 317.07,558.28 318.40,558.30 L318.40,559.50 L116.90,559.50 Z" fill="#F8D49B" clip-path="url(#c3)"/>
<path d="M130.40,542.40 L131.11,542.21 L131.81,542.02 L132.52,541.83 L133.23,541.64 L133.93,541.44 L134.64,541.24 L135.35,541.04 L136.05,540.84 L136.76,540.64 L137.47,540.43 L138.17,540.23 L138.88,540.02 L139.58,539.80 L140.29,539.59 L141.00,539.37 L141.70,539.15 L142.41,538.93 L143.12,538.70 L143.82,538.47 L144.53,538.24 L145.24,538.00 L145.94,537.76 L146.65,537.52 L147.36,537.28 L148.06,537.03 L148.77,536.77 L149.48,536.52 L150.18,536.26 L150.89,536.00 L151.60,535.73 L152.30,535.46 L153.01,535.18 L153.72,534.90 L154.42,534.62 L155.13,534.33 L155.84,534.04 L156.54,533.74 L157.25,533.44 L157.95,533.14 L158.66,532.83 L159.37,532.51 L160.07,532.19 L160.78,531.87 L161.49,531.54 L162.19,531.21 L162.90,530.87 L163.61,530.52 L164.31,530.17 L165.02,529.82 L165.73,529.46 L166.43,529.09 L167.14,528.72 L167.85,528.34 L168.55,527.96 L169.26,527.57 L169.97,527.18 L170.67,526.78 L171.38,526.37 L172.09,525.96 L172.79,525.54 L173.50,525.11 L174.21,524.68 L174.91,524.24 L175.62,523.80 L176.32,523.35 L177.03,522.89 L177.74,522.43 L178.44,521.96 L179.15,521.48 L179.86,520.99 L180.56,520.50 L181.27,520.00 L181.98,519.50 L182.68,518.98 L183.39,518.46 L184.10,517.93 L184.80,517.40 L185.51,516.85 L186.22,516.30 L186.92,515.74 L187.63,515.18 L188.34,514.60 L189.04,514.02 L189.75,513.43 L190.46,512.83 L191.16,512.22 L191.87,511.61 L192.57,510.99 L193.28,510.35 L193.99,509.71 L194.69,509.06 L195.40,508.41 L196.11,507.74 L196.81,507.06 L197.52,506.38 L198.23,505.69 L198.93,504.98 L199.64,504.27 L200.35,503.55 L201.05,502.82 L201.76,502.08 L202.47,501.33 L203.17,500.57 L203.88,499.81 L204.59,499.03 L205.29,498.24 L206.00,497.44 L206.71,496.63 L207.41,495.82 L208.12,494.99 L208.83,494.15 L209.53,493.30 L210.24,492.44 L210.94,491.58 L211.65,490.70 L212.36,489.81 L213.06,488.91 L213.77,487.99 L214.48,487.07 L215.18,486.14 L215.89,485.20 L216.60,484.24 L217.30,483.27 L218.01,482.29 L218.72,481.29 L219.42,480.28 L220.13,479.25 L220.84,478.20 L221.54,477.13 L222.25,476.04 L222.96,474.92 L223.66,473.78 L224.37,472.62 L225.08,471.42 L225.78,470.20 L226.49,468.95 L227.19,467.67 L227.90,466.36 L228.61,465.01 L229.31,463.63 L230.02,462.21 L230.73,460.78 L231.43,459.32 L232.14,457.84 L232.85,456.36 L233.55,454.87 L234.26,453.38 L234.97,451.89 L235.67,450.42 L236.38,448.95 L237.09,447.51 L237.79,446.08 L238.50,444.66 L239.21,443.25 L239.91,441.84 L240.62,440.42 L241.33,438.99 L242.03,437.55 L242.74,436.10 L243.45,434.62 L244.15,433.12 L244.86,431.58 L245.56,430.01 L246.27,428.40 L246.98,426.75 L247.68,425.05 L248.39,423.31 L249.10,421.53 L249.80,419.71 L250.51,417.85 L251.22,415.96 L251.92,414.02 L252.63,412.06 L253.34,410.06 L254.04,408.02 L254.75,405.96 L255.46,403.87 L256.16,401.74 L256.87,399.59 L257.58,397.41 L258.28,395.20 L258.99,392.95 L259.70,390.68 L260.40,388.37 L261.11,386.03 L261.82,383.65 L262.52,381.25 L263.23,378.80 L263.93,376.32 L264.64,373.81 L265.35,371.26 L266.05,368.67 L266.76,366.04 L267.47,363.38 L268.17,360.68 L268.88,357.93 L269.59,355.17 L270.29,352.48 L271.00,349.99" fill="none" stroke="#DF536B" stroke-width="1.5" clip-path="url(#c3)"/>
<path d="M130.40,474.99 L130.83,475.61 L131.26,476.23 L131.68,476.84 L132.11,477.45 L132.54,478.06 L132.97,478.66 L133.39,479.26 L133.82,479.86 L134.25,480.45 L134.68,481.04 L135.11,481.62 L135.53,482.21 L135.96,482.78 L136.39,483.36 L136.82,483.93 L137.24,484.50 L137.67,485.06 L138.10,485.62 L138.53,486.18 L138.95,486.73 L139.38,487.28 L139.81,487.82 L140.24,488.37 L140.67,488.90 L141.09,489.44 L141.52,489.97 L141.95,490.49 L142.38,491.02 L142.80,491.54 L143.23,492.05 L143.66,492.56 L144.09,493.07 L144.52,493.57 L144.94,494.07 L145.37,494.57 L145.80,495.06 L146.23,495.55 L146.65,496.03 L147.08,496.51 L147.51,496.98 L147.94,497.45 L148.36,497.92 L148.79,498.38 L149.22,498.84 L149.65,499.30 L150.08,499.75 L150.50,500.20 L150.93,500.64 L151.36,501.08 L151.79,501.51 L152.21,501.94 L152.64,502.37 L153.07,502.79 L153.50,503.21 L153.93,503.62 L154.35,504.03 L154.78,504.43 L155.21,504.83 L155.64,505.23 L156.06,505.62 L156.49,506.01 L156.92,506.39 L157.35,506.77 L157.77,507.14 L158.20,507.51 L158.63,507.87 L159.06,508.23 L159.49,508.59 L159.91,508.94 L160.34,509.29 L160.77,509.63 L161.20,509.97 L161.62,510.30 L162.05,510.63 L162.48,510.95 L162.91,511.27 L163.34,511.59 L163.76,511.90 L164.19,512.20 L164.62,512.50 L165.05,512.80 L165.47,513.09 L165.90,513.38 L166.33,513.66 L166.76,513.94 L167.18,514.21 L167.61,514.48 L168.04,514.74 L168.47,515.00 L168.90,515.25 L169.32,515.50 L169.75,515.74 L170.18,515.98 L170.61,516.21 L171.03,516.44 L171.46,516.66 L171.89,516.88 L172.32,517.10 L172.75,517.30 L173.17,517.51 L173.60,517.71 L174.03,517.90 L174.46,518.09 L174.88,518.27 L175.31,518.45 L175.74,518.62 L176.17,518.79 L176.59,518.95 L177.02,519.11 L177.45,519.26 L177.88,519.41 L178.31,519.55 L178.73,519.69 L179.16,519.82 L179.59,519.95 L180.02,520.07 L180.44,520.18 L180.87,520.29 L181.30,520.40" fill="none" stroke="#000" stroke-width="1.55" stroke-linecap="round" stroke-dasharray="3.7 6.8" clip-path="url(#c3)"/>
<path d="M130.40,555.70 L130.83,555.60 L131.26,555.50 L131.68,555.40 L132.11,555.30 L132.54,555.20 L132.97,555.09 L133.39,554.99 L133.82,554.88 L134.25,554.78 L134.68,554.67 L135.11,554.56 L135.53,554.45 L135.96,554.34 L136.39,554.23 L136.82,554.11 L137.24,554.00 L137.67,553.88 L138.10,553.76 L138.53,553.64 L138.95,553.51 L139.38,553.39 L139.81,553.26 L140.24,553.13 L140.67,553.00 L141.09,552.87 L141.52,552.73 L141.95,552.59 L142.38,552.45 L142.80,552.31 L143.23,552.16 L143.66,552.01 L144.09,551.86 L144.52,551.71 L144.94,551.55 L145.37,551.39 L145.80,551.23 L146.23,551.06 L146.65,550.89 L147.08,550.72 L147.51,550.55 L147.94,550.37 L148.36,550.19 L148.79,550.00 L149.22,549.81 L149.65,549.62 L150.08,549.42 L150.50,549.22 L150.93,549.02 L151.36,548.81 L151.79,548.60 L152.21,548.38 L152.64,548.16 L153.07,547.94 L153.50,547.71 L153.93,547.47 L154.35,547.24 L154.78,547.00 L155.21,546.75 L155.64,546.50 L156.06,546.24 L156.49,545.98 L156.92,545.72 L157.35,545.45 L157.77,545.17 L158.20,544.89 L158.63,544.61 L159.06,544.32 L159.49,544.02 L159.91,543.72 L160.34,543.42 L160.77,543.10 L161.20,542.79 L161.62,542.46 L162.05,542.14 L162.48,541.80 L162.91,541.46 L163.34,541.12 L163.76,540.77 L164.19,540.41 L164.62,540.04 L165.05,539.67 L165.47,539.30 L165.90,538.92 L166.33,538.53 L166.76,538.13 L167.18,537.73 L167.61,537.32 L168.04,536.91 L168.47,536.49 L168.90,536.06 L169.32,535.63 L169.75,535.18 L170.18,534.74 L170.61,534.28 L171.03,533.82 L171.46,533.35 L171.89,532.87 L172.32,532.39 L172.75,531.89 L173.17,531.39 L173.60,530.89 L174.03,530.37 L174.46,529.85 L174.88,529.32 L175.31,528.78 L175.74,528.24 L176.17,527.69 L176.59,527.12 L177.02,526.55 L177.45,525.98 L177.88,525.39 L178.31,524.80 L178.73,524.19 L179.16,523.58 L179.59,522.96 L180.02,522.34 L180.44,521.70 L180.87,521.05 L181.30,520.40" fill="none" stroke="#000" stroke-width="1.55" stroke-linecap="round" stroke-dasharray="3.7 6.8" clip-path="url(#c3)"/>
<path d="M181.30,520.40 L181.75,519.86 L182.20,519.31 L182.65,518.75 L183.11,518.19 L183.56,517.62 L184.01,517.04 L184.46,516.45 L184.91,515.86 L185.36,515.26 L185.81,514.65 L186.26,514.03 L186.72,513.41 L187.17,512.78 L187.62,512.14 L188.07,511.49 L188.52,510.83 L188.97,510.17 L189.42,509.50 L189.87,508.83 L190.33,508.15 L190.78,507.45 L191.23,506.76 L191.68,506.05 L192.13,505.34 L192.58,504.62 L193.03,503.90 L193.48,503.17 L193.94,502.43 L194.39,501.68 L194.84,500.93 L195.29,500.17 L195.74,499.40 L196.19,498.63 L196.64,497.85 L197.09,497.07 L197.55,496.28 L198.00,495.48 L198.45,494.67 L198.90,493.86 L199.35,493.05 L199.80,492.22 L200.25,491.39 L200.70,490.56 L201.16,489.71 L201.61,488.87 L202.06,488.01 L202.51,487.15 L202.96,486.29 L203.41,485.41 L203.86,484.53 L204.31,483.63 L204.77,482.72 L205.22,481.80 L205.67,480.87 L206.12,479.91 L206.57,478.94 L207.02,477.96 L207.47,476.95 L207.92,475.92 L208.38,474.87 L208.83,473.79 L209.28,472.69 L209.73,471.56 L210.18,470.41 L210.63,469.22 L211.08,468.01 L211.53,466.76 L211.99,465.48 L212.44,464.16 L212.89,462.81 L213.34,461.42 L213.79,460.00 L214.24,458.53 L214.69,457.03 L215.14,455.48 L215.60,453.88 L216.05,452.24 L216.50,450.56 L216.95,448.83 L217.40,447.05 L217.85,445.22 L218.30,443.35 L218.75,441.43 L219.21,439.46 L219.66,437.46 L220.11,435.41 L220.56,433.32 L221.01,431.19 L221.46,429.03 L221.91,426.82 L222.36,424.59 L222.82,422.31 L223.27,420.00 L223.72,417.66 L224.17,415.29 L224.62,412.89 L225.07,410.46 L225.52,408.01 L225.97,405.52 L226.43,403.01 L226.88,400.48 L227.33,397.92 L227.78,395.34 L228.23,392.74 L228.68,390.12 L229.13,387.49 L229.58,384.84 L230.04,382.19 L230.49,379.54 L230.94,376.90 L231.39,374.28 L231.84,371.69 L232.29,369.13 L232.74,366.61 L233.19,364.12 L233.65,361.64 L234.10,359.15 L234.55,356.62 L235.00,354.04" fill="none" stroke="#000" stroke-width="1.55" stroke-linecap="round" stroke-dasharray="3.7 6.8" clip-path="url(#c3)"/>
<path d="M181.30,520.43 L182.48,520.04 L183.66,519.63 L184.85,519.22 L186.03,518.81 L187.21,518.39 L188.39,517.97 L189.58,517.55 L190.76,517.12 L191.94,516.70 L193.12,516.27 L194.31,515.85 L195.49,515.42 L196.67,515.00 L197.85,514.58 L199.04,514.16 L200.22,513.75 L201.40,513.33 L202.58,512.93 L203.76,512.52 L204.95,512.12 L206.13,511.73 L207.31,511.34 L208.49,510.96 L209.68,510.58 L210.86,510.20 L212.04,509.83 L213.22,509.47 L214.41,509.10 L215.59,508.74 L216.77,508.39 L217.95,508.04 L219.14,507.69 L220.32,507.35 L221.50,507.01 L222.68,506.67 L223.86,506.34 L225.05,506.01 L226.23,505.68 L227.41,505.35 L228.59,505.03 L229.78,504.71 L230.96,504.40 L232.14,504.08 L233.32,503.77 L234.51,503.47 L235.69,503.16 L236.87,502.85 L238.05,502.55 L239.24,502.25 L240.42,501.96 L241.60,501.66 L242.78,501.37 L243.96,501.08 L245.15,500.79 L246.33,500.50 L247.51,500.22 L248.69,499.93 L249.88,499.65 L251.06,499.37 L252.24,499.10 L253.42,498.82 L254.61,498.55 L255.79,498.28 L256.97,498.01 L258.15,497.74 L259.34,497.48 L260.52,497.21 L261.70,496.95 L262.88,496.69 L264.06,496.43 L265.25,496.18 L266.43,495.92 L267.61,495.67 L268.79,495.42 L269.98,495.17 L271.16,494.92 L272.34,494.68 L273.52,494.43 L274.71,494.19 L275.89,493.95 L277.07,493.71 L278.25,493.47 L279.44,493.23 L280.62,493.00 L281.80,492.77 L282.98,492.53 L284.16,492.30 L285.35,492.07 L286.53,491.85 L287.71,491.62 L288.89,491.40 L290.08,491.17 L291.26,490.95 L292.44,490.73 L293.62,490.51 L294.81,490.29 L295.99,490.08 L297.17,489.86 L298.35,489.65 L299.54,489.44 L300.72,489.22 L301.90,489.01 L303.08,488.80 L304.26,488.60 L305.45,488.39 L306.63,488.18 L307.81,487.98 L308.99,487.78 L310.18,487.57 L311.36,487.37 L312.54,487.17 L313.72,486.97 L314.91,486.77 L316.09,486.58 L317.27,486.38 L318.45,486.18 L319.64,485.99 L320.82,485.79 L322.00,485.60" fill="none" stroke="#000" stroke-width="1.55" stroke-linecap="round" stroke-dasharray="3.7 6.8" clip-path="url(#c3)"/>
<line x1="129.90" y1="520.05" x2="318.40" y2="520.05" stroke="#000" stroke-width="1.4" stroke-dasharray="1.3 3.96"/>
<rect x="108.4" y="357.25" width="210" height="209.45" fill="none" stroke="#3a3a3a" stroke-width="1.3"/>
<line x1="99.60000000000001" y1="558.90" x2="108.4" y2="558.90" stroke="#3a3a3a" stroke-width="1.3"/>
<text transform="translate(88.00,558.90) rotate(-90)" text-anchor="middle" font-size="13" fill="#000">0</text>
<line x1="99.60000000000001" y1="520.05" x2="108.4" y2="520.05" stroke="#3a3a3a" stroke-width="1.3"/>
<path transform="translate(88.00,520.05) rotate(-90)" d="M1.23,0.00 L0.09,0.00 L0.09,-7.28 C-0.34,-6.86 -1.21,-6.50 -2.20,-6.42 L-2.20,-7.57 C-1.01,-7.85 0.05,-8.63 0.49,-9.31 L1.23,-9.31 Z" fill="#000"/>
<line x1="99.60000000000001" y1="481.20" x2="108.4" y2="481.20" stroke="#3a3a3a" stroke-width="1.3"/>
<text transform="translate(88.00,481.20) rotate(-90)" text-anchor="middle" font-size="13" fill="#000">2</text>
<line x1="99.60000000000001" y1="442.35" x2="108.4" y2="442.35" stroke="#3a3a3a" stroke-width="1.3"/>
<text transform="translate(88.00,442.35) rotate(-90)" text-anchor="middle" font-size="13" fill="#000">3</text>
<line x1="99.60000000000001" y1="403.50" x2="108.4" y2="403.50" stroke="#3a3a3a" stroke-width="1.3"/>
<text transform="translate(88.00,403.50) rotate(-90)" text-anchor="middle" font-size="13" fill="#000">4</text>
<line x1="99.60000000000001" y1="364.65" x2="108.4" y2="364.65" stroke="#3a3a3a" stroke-width="1.3"/>
<text transform="translate(88.00,364.65) rotate(-90)" text-anchor="middle" font-size="13" fill="#000">5</text>
<line x1="318.4" y1="558.90" x2="327.0" y2="558.90" stroke="#3a3a3a" stroke-width="1.3"/>
<text transform="translate(348.90,558.90) rotate(-90)" text-anchor="middle" font-size="13" fill="#000">0.0</text>
<line x1="318.4" y1="515.95" x2="327.0" y2="515.95" stroke="#3a3a3a" stroke-width="1.3"/>
<g transform="translate(348.90,515.95) rotate(-90)"><text x="-9.035" font-size="13" fill="#000">0.</text><path d="M6.66,0.00 L5.51,0.00 L5.51,-7.28 C5.08,-6.86 4.21,-6.50 3.22,-6.42 L3.22,-7.57 C4.41,-7.85 5.47,-8.63 5.92,-9.31 L6.66,-9.31 Z" fill="#000"/></g>
<line x1="318.4" y1="473.00" x2="327.0" y2="473.00" stroke="#3a3a3a" stroke-width="1.3"/>
<text transform="translate(348.90,473.00) rotate(-90)" text-anchor="middle" font-size="13" fill="#000">0.2</text>
<line x1="318.4" y1="430.05" x2="327.0" y2="430.05" stroke="#3a3a3a" stroke-width="1.3"/>
<text transform="translate(348.90,430.05) rotate(-90)" text-anchor="middle" font-size="13" fill="#000">0.3</text>
<line x1="318.4" y1="387.10" x2="327.0" y2="387.10" stroke="#3a3a3a" stroke-width="1.3"/>
<text transform="translate(348.90,387.10) rotate(-90)" text-anchor="middle" font-size="13" fill="#000">0.4</text>
<line x1="116.00" y1="566.7" x2="116.00" y2="575.3" stroke="#3a3a3a" stroke-width="1.3"/>
<text x="116.00" y="596.70" text-anchor="middle" font-size="13" fill="#000">0</text>
<line x1="143.80" y1="566.7" x2="143.80" y2="575.3" stroke="#3a3a3a" stroke-width="1.3"/>
<path d="M145.03,596.70 L143.89,596.70 L143.89,589.42 C143.46,589.84 142.59,590.20 141.60,590.28 L141.60,589.13 C142.79,588.85 143.85,588.07 144.29,587.39 L145.03,587.39 Z" fill="#000"/>
<line x1="171.60" y1="566.7" x2="171.60" y2="575.3" stroke="#3a3a3a" stroke-width="1.3"/>
<text x="171.60" y="596.70" text-anchor="middle" font-size="13" fill="#000">2</text>
<line x1="199.40" y1="566.7" x2="199.40" y2="575.3" stroke="#3a3a3a" stroke-width="1.3"/>
<text x="199.40" y="596.70" text-anchor="middle" font-size="13" fill="#000">3</text>
<line x1="227.20" y1="566.7" x2="227.20" y2="575.3" stroke="#3a3a3a" stroke-width="1.3"/>
<text x="227.20" y="596.70" text-anchor="middle" font-size="13" fill="#000">4</text>
<line x1="255.00" y1="566.7" x2="255.00" y2="575.3" stroke="#3a3a3a" stroke-width="1.3"/>
<text x="255.00" y="596.70" text-anchor="middle" font-size="13" fill="#000">5</text>
<line x1="282.80" y1="566.7" x2="282.80" y2="575.3" stroke="#3a3a3a" stroke-width="1.3"/>
<text x="282.80" y="596.70" text-anchor="middle" font-size="13" fill="#000">6</text>
<line x1="310.60" y1="566.7" x2="310.60" y2="575.3" stroke="#3a3a3a" stroke-width="1.3"/>
<text x="310.60" y="596.70" text-anchor="middle" font-size="13" fill="#000">7</text>
<line x1="122.30000000000001" y1="369.70000000000005" x2="151.5" y2="369.70000000000005" stroke="#EE6A7C" stroke-width="1.6"/>
<line x1="122.30000000000001" y1="382.8" x2="151.70000000000002" y2="382.8" stroke="#555" stroke-width="1.3" stroke-dasharray="3.4 3.6"/>
<text x="165.4" y="374.6" font-size="13" fill="#000">Hazard ratio</text>
<text x="165.4" y="387.5" font-size="13" fill="#000">95%CI</text>
<path d="M417.80,558.30 C418.80,558.18 421.38,557.87 423.80,557.60 C426.22,557.33 429.68,557.08 432.30,556.70 C434.92,556.32 437.60,555.97 439.50,555.30 C441.40,554.63 442.57,553.70 443.70,552.70 C444.83,551.70 445.32,550.87 446.30,549.30 C447.28,547.73 448.48,545.30 449.60,543.30 C450.72,541.30 451.37,540.32 453.00,537.30 C454.63,534.28 457.87,529.23 459.40,525.20 C460.93,521.17 461.53,517.12 462.20,513.10 C462.87,509.08 463.05,504.78 463.40,501.10 C463.75,497.42 463.82,495.25 464.30,491.00 C464.78,486.75 465.63,480.72 466.30,475.60 C466.97,470.48 467.67,465.40 468.30,460.30 C468.93,455.20 469.33,450.10 470.10,445.00 C470.87,439.90 472.00,434.82 472.90,429.70 C473.80,424.58 474.75,418.67 475.50,414.30 C476.25,409.93 476.58,407.68 477.40,403.50 C478.22,399.32 479.42,393.60 480.40,389.20 C481.38,384.80 482.28,380.45 483.30,377.10 C484.32,373.75 485.50,371.03 486.50,369.10 C487.50,367.17 488.43,366.32 489.30,365.50 C490.17,364.68 490.95,364.23 491.70,364.20 C492.45,364.17 493.13,364.48 493.80,365.30 C494.47,366.12 494.83,367.13 495.70,369.10 C496.57,371.07 497.85,373.75 499.00,377.10 C500.15,380.45 501.30,385.63 502.60,389.20 C503.90,392.77 505.60,395.70 506.80,398.50 C508.00,401.30 508.68,403.23 509.80,406.00 C510.92,408.77 511.82,410.90 513.50,415.10 C515.18,419.30 518.17,425.83 519.90,431.20 C521.63,436.57 522.57,441.95 523.90,447.30 C525.23,452.65 526.68,457.95 527.90,463.30 C529.12,468.65 530.30,475.12 531.20,479.40 C532.10,483.68 532.43,484.97 533.30,489.00 C534.17,493.03 535.15,498.73 536.40,503.60 C537.65,508.47 539.47,514.55 540.80,518.20 C542.13,521.85 543.07,523.07 544.40,525.50 C545.73,527.93 547.33,530.37 548.80,532.80 C550.27,535.23 551.75,538.28 553.20,540.10 C554.65,541.92 555.80,542.73 557.50,543.70 C559.20,544.67 561.20,545.03 563.40,545.90 C565.60,546.77 568.03,547.80 570.70,548.90 C573.37,550.00 576.97,551.42 579.40,552.50 C581.83,553.58 583.58,554.62 585.30,555.40 C587.02,556.18 586.78,556.80 589.70,557.20 C592.62,557.60 596.72,557.62 602.80,557.80 C608.88,557.98 622.03,558.20 626.20,558.30 C630.37,558.40 627.53,558.38 627.80,558.40 L627.80,559.40 L417.80,559.40 Z" fill="#C4D3E8" clip-path="url(#c4)"/>
<path d="M439.60,484.20 L440.57,485.31 L441.53,486.40 L442.50,487.47 L443.47,488.53 L444.43,489.57 L445.40,490.59 L446.37,491.59 L447.33,492.58 L448.30,493.54 L449.27,494.49 L450.24,495.43 L451.20,496.34 L452.17,497.24 L453.14,498.12 L454.10,498.99 L455.07,499.83 L456.04,500.66 L457.00,501.48 L457.97,502.27 L458.94,503.05 L459.90,503.81 L460.87,504.56 L461.84,505.29 L462.80,506.00 L463.77,506.70 L464.74,507.38 L465.70,508.04 L466.67,508.69 L467.64,509.32 L468.61,509.94 L469.57,510.54 L470.54,511.12 L471.51,511.69 L472.47,512.24 L473.44,512.78 L474.41,513.30 L475.37,513.80 L476.34,514.29 L477.31,514.77 L478.27,515.23 L479.24,515.67 L480.21,516.10 L481.17,516.51 L482.14,516.91 L483.11,517.29 L484.07,517.66 L485.04,518.01 L486.01,518.35 L486.97,518.68 L487.94,518.99 L488.91,519.29 L489.88,519.57 L490.84,519.84 L491.81,520.10 L492.78,520.34 L493.74,520.57 L494.71,520.78 L495.68,520.99 L496.64,521.18 L497.61,521.36 L498.58,521.52 L499.54,521.67 L500.51,521.81 L501.48,521.94 L502.44,522.06 L503.41,522.17 L504.38,522.26 L505.34,522.34 L506.31,522.41 L507.28,522.47 L508.25,522.52 L509.21,522.56 L510.18,522.59 L511.15,522.61 L512.11,522.61 L513.08,522.61 L514.05,522.60 L515.01,522.57 L515.98,522.54 L516.95,522.50 L517.91,522.45 L518.88,522.39 L519.85,522.32 L520.81,522.25 L521.78,522.16 L522.75,522.07 L523.71,521.97 L524.68,521.86 L525.65,521.75 L526.62,521.63 L527.58,521.50 L528.55,521.36 L529.52,521.22 L530.48,521.08 L531.45,520.93 L532.42,520.77 L533.38,520.61 L534.35,520.44 L535.32,520.27 L536.28,520.09 L537.25,519.91 L538.22,519.72 L539.18,519.53 L540.15,519.34 L541.12,519.15 L542.08,518.95 L543.05,518.74 L544.02,518.54 L544.98,518.33 L545.95,518.13 L546.92,517.91 L547.89,517.70 L548.85,517.49 L549.82,517.27 L550.79,517.06 L551.75,516.84 L552.72,516.63 L553.69,516.41 L554.65,516.19 L555.62,515.97 L556.59,515.76 L557.55,515.54 L558.52,515.32 L559.49,515.10 L560.45,514.89 L561.42,514.67 L562.39,514.45 L563.35,514.23 L564.32,514.02 L565.29,513.80 L566.26,513.58 L567.22,513.37 L568.19,513.15 L569.16,512.94 L570.12,512.72 L571.09,512.51 L572.06,512.29 L573.02,512.08 L573.99,511.86 L574.96,511.65 L575.92,511.44 L576.89,511.23 L577.86,511.01 L578.82,510.80 L579.79,510.59 L580.76,510.38 L581.72,510.18 L582.69,509.97 L583.66,509.76 L584.63,509.56 L585.59,509.35 L586.56,509.15 L587.53,508.94 L588.49,508.74 L589.46,508.54 L590.43,508.34 L591.39,508.14 L592.36,507.94 L593.33,507.75 L594.29,507.55 L595.26,507.36 L596.23,507.16 L597.19,506.97 L598.16,506.78 L599.13,506.59 L600.09,506.40 L601.06,506.22 L602.03,506.03 L602.99,505.85 L603.96,505.67 L604.93,505.49 L605.90,505.31 L606.86,505.13 L607.83,504.96 L608.80,504.78 L609.76,504.61 L610.73,504.44 L611.70,504.27 L612.66,504.11 L613.63,503.94 L614.60,503.78 L615.56,503.62 L616.53,503.46 L617.50,503.31 L618.46,503.15 L619.43,503.00 L620.40,502.85 L621.36,502.70 L622.33,502.55 L623.30,502.41 L624.27,502.27 L625.23,502.13 L626.20,501.99 L627.17,501.86 L628.13,501.72 L629.10,501.59 L630.07,501.47 L631.03,501.34 L632.00,501.22" fill="none" stroke="#DF536B" stroke-width="1.5" clip-path="url(#c4)"/>
<path d="M439.60,425.13 L441.22,430.89 L442.83,436.42 L444.45,441.71 L446.07,446.79 L447.68,451.64 L449.30,456.27 L450.92,460.70 L452.53,464.93 L454.15,468.95 L455.77,472.79 L457.38,476.44 L459.00,479.91 L460.62,483.20 L462.24,486.32 L463.85,489.28 L465.47,492.08 L467.09,494.73 L468.70,497.23 L470.32,499.58 L471.94,501.80 L473.55,503.89 L475.17,505.85 L476.79,507.69 L478.40,509.41 L480.02,511.02 L481.64,512.53 L483.25,513.93 L484.87,515.24 L486.49,516.46 L488.10,517.59 L489.72,518.65 L491.34,519.62 L492.95,520.52 L494.57,521.36 L496.19,522.13 L497.81,522.84 L499.42,523.50 L501.04,524.10 L502.66,524.66 L504.27,525.17 L505.89,525.64 L507.51,526.07 L509.12,526.46 L510.74,526.82 L512.36,527.16 L513.97,527.47 L515.59,527.76 L517.21,528.03 L518.82,528.28 L520.44,528.52 L522.06,528.74 L523.67,528.95 L525.29,529.15 L526.91,529.33 L528.52,529.51 L530.14,529.67 L531.76,529.83 L533.37,529.99 L534.99,530.14 L536.61,530.29 L538.23,530.44 L539.84,530.58 L541.46,530.73 L543.08,530.88 L544.69,531.04 L546.31,531.20 L547.93,531.37 L549.54,531.55 L551.16,531.73 L552.78,531.93 L554.39,532.13 L556.01,532.34 L557.63,532.55 L559.24,532.77 L560.86,533.00 L562.48,533.23 L564.09,533.47 L565.71,533.71 L567.33,533.95 L568.94,534.20 L570.56,534.45 L572.18,534.71 L573.79,534.96 L575.41,535.22 L577.03,535.48 L578.65,535.74 L580.26,536.00 L581.88,536.26 L583.50,536.52 L585.11,536.78 L586.73,537.04 L588.35,537.29 L589.96,537.55 L591.58,537.80 L593.20,538.04 L594.81,538.28 L596.43,538.52 L598.05,538.76 L599.66,538.99 L601.28,539.21 L602.90,539.43 L604.51,539.64 L606.13,539.84 L607.75,540.04 L609.36,540.23 L610.98,540.41 L612.60,540.58 L614.22,540.74 L615.83,540.89 L617.45,541.04 L619.07,541.17 L620.68,541.29 L622.30,541.40 L623.92,541.50 L625.53,541.58 L627.15,541.65 L628.77,541.71 L630.38,541.76 L632.00,541.79" fill="none" stroke="#000" stroke-width="1.55" stroke-linecap="round" stroke-dasharray="3.7 6.8" clip-path="url(#c4)"/>
<path d="M439.10,517.60 L440.72,517.90 L442.34,518.16 L443.96,518.39 L445.58,518.60 L447.21,518.77 L448.83,518.92 L450.45,519.05 L452.07,519.15 L453.69,519.23 L455.31,519.30 L456.93,519.35 L458.55,519.39 L460.17,519.41 L461.79,519.42 L463.42,519.43 L465.04,519.43 L466.66,519.42 L468.28,519.41 L469.90,519.41 L471.52,519.40 L473.14,519.39 L474.76,519.40 L476.38,519.41 L478.00,519.42 L479.63,519.45 L481.25,519.49 L482.87,519.55 L484.49,519.62 L486.11,519.71 L487.73,519.82 L489.35,519.92 L490.97,520.03 L492.59,520.12 L494.21,520.21 L495.84,520.28 L497.46,520.32 L499.08,520.34 L500.70,520.32 L502.32,520.26 L503.94,520.15 L505.56,519.99 L507.18,519.78 L508.80,519.50 L510.42,519.15 L512.05,518.73 L513.67,518.23 L515.29,517.68 L516.91,517.07 L518.53,516.40 L520.15,515.70 L521.77,514.96 L523.39,514.18 L525.01,513.39 L526.63,512.57 L528.26,511.74 L529.88,510.91 L531.50,510.06 L533.12,509.19 L534.74,508.30 L536.36,507.37 L537.98,506.40 L539.60,505.39 L541.22,504.32 L542.84,503.19 L544.47,501.98 L546.09,500.71 L547.71,499.35 L549.33,497.90 L550.95,496.36 L552.57,494.72 L554.19,493.01 L555.81,491.21 L557.43,489.35 L559.05,487.43 L560.68,485.45 L562.30,483.42 L563.92,481.36 L565.54,479.25 L567.16,477.13 L568.78,474.98 L570.40,472.82 L572.02,470.65 L573.64,468.49 L575.26,466.32 L576.89,464.16 L578.51,461.99 L580.13,459.83 L581.75,457.66 L583.37,455.49 L584.99,453.32 L586.61,451.11 L588.23,448.87 L589.85,446.58 L591.47,444.23 L593.10,441.80 L594.72,439.28 L596.34,436.67 L597.96,433.96 L599.58,431.17 L601.20,428.29 L602.82,425.33 L604.44,422.29 L606.06,419.17 L607.68,415.99 L609.31,412.73 L610.93,409.41 L612.55,406.03 L614.17,402.59 L615.79,399.10 L617.41,395.55 L619.03,391.96 L620.65,388.32 L622.27,384.64 L623.89,380.92 L625.52,377.18 L627.14,373.41 L628.76,369.62 L630.38,365.81 L632.00,362.00" fill="none" stroke="#000" stroke-width="1.55" stroke-linecap="round" stroke-dasharray="3.7 6.8" clip-path="url(#c4)"/>
<line x1="439.30" y1="519.95" x2="627.80" y2="519.95" stroke="#000" stroke-width="1.4" stroke-dasharray="1.3 3.96"/>
<rect x="417.8" y="357.15" width="210" height="209.45" fill="none" stroke="#3a3a3a" stroke-width="1.3"/>
<line x1="409.0" y1="558.80" x2="417.8" y2="558.80" stroke="#3a3a3a" stroke-width="1.3"/>
<text transform="translate(397.40,558.80) rotate(-90)" text-anchor="middle" font-size="13" fill="#000">0</text>
<line x1="409.0" y1="519.95" x2="417.8" y2="519.95" stroke="#3a3a3a" stroke-width="1.3"/>
<path transform="translate(397.40,519.95) rotate(-90)" d="M1.23,0.00 L0.09,0.00 L0.09,-7.28 C-0.34,-6.86 -1.21,-6.50 -2.20,-6.42 L-2.20,-7.57 C-1.01,-7.85 0.05,-8.63 0.49,-9.31 L1.23,-9.31 Z" fill="#000"/>
<line x1="409.0" y1="481.10" x2="417.8" y2="481.10" stroke="#3a3a3a" stroke-width="1.3"/>
<text transform="translate(397.40,481.10) rotate(-90)" text-anchor="middle" font-size="13" fill="#000">2</text>
<line x1="409.0" y1="442.25" x2="417.8" y2="442.25" stroke="#3a3a3a" stroke-width="1.3"/>
<text transform="translate(397.40,442.25) rotate(-90)" text-anchor="middle" font-size="13" fill="#000">3</text>
<line x1="409.0" y1="403.40" x2="417.8" y2="403.40" stroke="#3a3a3a" stroke-width="1.3"/>
<text transform="translate(397.40,403.40) rotate(-90)" text-anchor="middle" font-size="13" fill="#000">4</text>
<line x1="409.0" y1="364.55" x2="417.8" y2="364.55" stroke="#3a3a3a" stroke-width="1.3"/>
<text transform="translate(397.40,364.55) rotate(-90)" text-anchor="middle" font-size="13" fill="#000">5</text>
<line x1="627.8" y1="558.80" x2="636.4000000000001" y2="558.80" stroke="#3a3a3a" stroke-width="1.3"/>
<text transform="translate(658.30,558.80) rotate(-90)" text-anchor="middle" font-size="13" fill="#000">0.0</text>
<line x1="627.8" y1="516.95" x2="636.4000000000001" y2="516.95" stroke="#3a3a3a" stroke-width="1.3"/>
<g transform="translate(658.30,516.95) rotate(-90)"><text x="-9.035" font-size="13" fill="#000">0.</text><path d="M6.66,0.00 L5.51,0.00 L5.51,-7.28 C5.08,-6.86 4.21,-6.50 3.22,-6.42 L3.22,-7.57 C4.41,-7.85 5.47,-8.63 5.92,-9.31 L6.66,-9.31 Z" fill="#000"/></g>
<line x1="627.8" y1="475.10" x2="636.4000000000001" y2="475.10" stroke="#3a3a3a" stroke-width="1.3"/>
<text transform="translate(658.30,475.10) rotate(-90)" text-anchor="middle" font-size="13" fill="#000">0.2</text>
<line x1="627.8" y1="433.25" x2="636.4000000000001" y2="433.25" stroke="#3a3a3a" stroke-width="1.3"/>
<text transform="translate(658.30,433.25) rotate(-90)" text-anchor="middle" font-size="13" fill="#000">0.3</text>
<line x1="627.8" y1="391.40" x2="636.4000000000001" y2="391.40" stroke="#3a3a3a" stroke-width="1.3"/>
<text transform="translate(658.30,391.40) rotate(-90)" text-anchor="middle" font-size="13" fill="#000">0.4</text>
<line x1="425.40" y1="566.5999999999999" x2="425.40" y2="575.2" stroke="#3a3a3a" stroke-width="1.3"/>
<text x="425.40" y="596.60" text-anchor="middle" font-size="13" fill="#000">0</text>
<line x1="453.20" y1="566.5999999999999" x2="453.20" y2="575.2" stroke="#3a3a3a" stroke-width="1.3"/>
<path d="M454.44,596.60 L453.29,596.60 L453.29,589.32 C452.86,589.74 451.99,590.10 451.00,590.18 L451.00,589.03 C452.19,588.75 453.25,587.97 453.69,587.29 L454.44,587.29 Z" fill="#000"/>
<line x1="481.00" y1="566.5999999999999" x2="481.00" y2="575.2" stroke="#3a3a3a" stroke-width="1.3"/>
<text x="481.00" y="596.60" text-anchor="middle" font-size="13" fill="#000">2</text>
<line x1="508.80" y1="566.5999999999999" x2="508.80" y2="575.2" stroke="#3a3a3a" stroke-width="1.3"/>
<text x="508.80" y="596.60" text-anchor="middle" font-size="13" fill="#000">3</text>
<line x1="536.60" y1="566.5999999999999" x2="536.60" y2="575.2" stroke="#3a3a3a" stroke-width="1.3"/>
<text x="536.60" y="596.60" text-anchor="middle" font-size="13" fill="#000">4</text>
<line x1="564.40" y1="566.5999999999999" x2="564.40" y2="575.2" stroke="#3a3a3a" stroke-width="1.3"/>
<text x="564.40" y="596.60" text-anchor="middle" font-size="13" fill="#000">5</text>
<line x1="592.20" y1="566.5999999999999" x2="592.20" y2="575.2" stroke="#3a3a3a" stroke-width="1.3"/>
<text x="592.20" y="596.60" text-anchor="middle" font-size="13" fill="#000">6</text>
<line x1="620.00" y1="566.5999999999999" x2="620.00" y2="575.2" stroke="#3a3a3a" stroke-width="1.3"/>
<text x="620.00" y="596.60" text-anchor="middle" font-size="13" fill="#000">7</text>
<line x1="431.70000000000005" y1="369.6" x2="460.9" y2="369.6" stroke="#EE6A7C" stroke-width="1.6"/>
<line x1="431.70000000000005" y1="382.7" x2="461.1" y2="382.7" stroke="#555" stroke-width="1.3" stroke-dasharray="3.4 3.6"/>
<text x="474.8" y="374.5" font-size="13" fill="#000">Hazard ratio</text>
<text x="474.8" y="387.4" font-size="13" fill="#000">95%CI</text>
<text x="149.9" y="316.5" font-size="16.45" font-weight="bold">LDL−C (mmol/L)</text>
<text x="461.5" y="316.5" font-size="16.45" font-weight="bold">LDL−C (mmol/L)</text>
<text x="151.2" y="616" font-size="16.45" font-weight="bold">LDL−C (mmol/L)</text>
<text x="461.8" y="615.8" font-size="16.45" font-weight="bold">LDL−C (mmol/L)</text>
<text transform="translate(63.5,154.6) rotate(-90)" text-anchor="middle" font-size="16.45" font-weight="bold">HR (95% CI)</text>
<text transform="translate(63.5,454.2) rotate(-90)" text-anchor="middle" font-size="16.45" font-weight="bold">HR (95% CI)</text>
<text transform="translate(680.6,161.45) rotate(-90)" text-anchor="middle" font-size="16.45" font-weight="bold">Freqency</text>
<text transform="translate(680.6,460.3) rotate(-90)" text-anchor="middle" font-size="16.45" font-weight="bold">Freqency</text>
</svg></body></html>
